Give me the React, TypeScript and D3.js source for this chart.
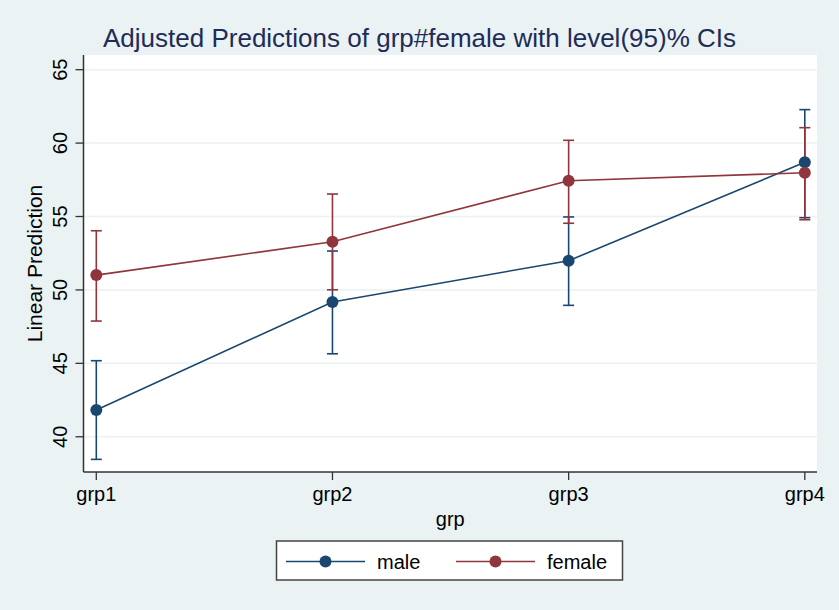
import React from "react";
import * as d3 from "d3";

// predicted linear values with 95% CIs, per group
const groups = ["grp1", "grp2", "grp3", "grp4"];
const maleFit = [41.82, 49.18, 51.99, 58.69];
const maleLo = [38.46, 45.65, 48.95, 54.92];
const maleHi = [45.18, 52.65, 54.97, 62.28];
const femaleFit = [51.01, 53.28, 57.44, 57.98];
const femaleLo = [47.88, 50.01, 54.54, 54.78];
const femaleHi = [54.03, 56.53, 60.19, 61.05];
const yTicks = [40, 45, 50, 55, 60, 65];

const NAVY = "#1a476f";
const MAROON = "#90353b";
const BG = "#eaf2f3";
const FONT = "Liberation Sans, Arial, Helvetica, sans-serif";

export default function App() {
  const svgRef = React.useRef<SVGSVGElement>(null);
  const width = 839;
  const height = 610;
  const plot = { left: 83.5, right: 817, top: 55, bottom: 472 };

  React.useEffect(() => {
    const svg = d3.select(svgRef.current);
    svg.selectAll("*").remove();

    svg.append("rect").attr("width", width).attr("height", height).attr("fill", BG);

    const x = d3.scalePoint().domain(groups).range([96.3, 804.8]);
    const y = d3.scaleLinear().domain([37.6, 66.0]).range([plot.bottom, plot.top]);

    // white plot region
    svg.append("rect")
      .attr("x", plot.left).attr("y", plot.top)
      .attr("width", plot.right - plot.left).attr("height", plot.bottom - plot.top)
      .attr("fill", "#fff");

    // grid
    svg.append("g").selectAll("line").data(yTicks).enter().append("line")
      .attr("x1", plot.left).attr("x2", plot.right)
      .attr("y1", (d) => y(d)).attr("y2", (d) => y(d))
      .attr("stroke", BG).attr("stroke-width", 1.5);

    // y axis
    const yAxis = svg.append("g");
    yAxis.append("line")
      .attr("x1", plot.left).attr("x2", plot.left)
      .attr("y1", plot.top).attr("y2", plot.bottom)
      .attr("stroke", "#333").attr("stroke-width", 1.5);
    yAxis.selectAll("line.tick").data(yTicks).enter().append("line")
      .attr("class", "tick")
      .attr("x1", plot.left - 8).attr("x2", plot.left)
      .attr("y1", (d) => y(d)).attr("y2", (d) => y(d))
      .attr("stroke", "#333").attr("stroke-width", 1.3);
    yAxis.selectAll("text").data(yTicks).enter().append("text")
      .attr("transform", (d) => `translate(67,${y(d)}) rotate(-90)`)
      .attr("text-anchor", "middle")
      .attr("font-family", FONT).attr("font-size", 20)
      .attr("fill", "#000")
      .text((d) => d);

    svg.append("text")
      .attr("transform", `translate(42,${(plot.top + plot.bottom) / 2}) rotate(-90)`)
      .attr("text-anchor", "middle")
      .attr("font-family", FONT).attr("font-size", 21)
      .attr("fill", "#000")
      .text("Linear Prediction");

    // x axis
    const xAxis = svg.append("g");
    xAxis.append("line")
      .attr("x1", plot.left).attr("x2", plot.right)
      .attr("y1", plot.bottom).attr("y2", plot.bottom)
      .attr("stroke", "#333").attr("stroke-width", 1.5);
    xAxis.selectAll("line.tick").data(groups).enter().append("line")
      .attr("class", "tick")
      .attr("x1", (d) => x(d)!).attr("x2", (d) => x(d)!)
      .attr("y1", plot.bottom).attr("y2", plot.bottom + 8)
      .attr("stroke", "#333").attr("stroke-width", 1.3);
    xAxis.selectAll("text").data(groups).enter().append("text")
      .attr("x", (d) => x(d)!).attr("y", 501)
      .attr("text-anchor", "middle")
      .attr("font-family", FONT).attr("font-size", 20)
      .attr("fill", "#000")
      .text((d) => d);

    svg.append("text")
      .attr("x", (plot.left + plot.right) / 2).attr("y", 526)
      .attr("text-anchor", "middle")
      .attr("font-family", FONT).attr("font-size", 20)
      .attr("fill", "#000")
      .text("grp");

    const series = [
      { fit: maleFit, lo: maleLo, hi: maleHi, color: NAVY },
      { fit: femaleFit, lo: femaleLo, hi: femaleHi, color: MAROON },
    ];

    // confidence intervals (range caps)
    series.forEach((s) => {
      const g = svg.append("g").attr("stroke", s.color).attr("stroke-width", 1.6);
      groups.forEach((k, i) => {
        const cx = x(k)!;
        g.append("line").attr("x1", cx).attr("x2", cx).attr("y1", y(s.lo[i])).attr("y2", y(s.hi[i]));
        g.append("line").attr("x1", cx - 5.5).attr("x2", cx + 5.5).attr("y1", y(s.lo[i])).attr("y2", y(s.lo[i]));
        g.append("line").attr("x1", cx - 5.5).attr("x2", cx + 5.5).attr("y1", y(s.hi[i])).attr("y2", y(s.hi[i]));
      });
    });

    // connected predictions
    const line = d3.line<number>().x((_, i) => x(groups[i])!).y((d) => y(d));
    series.forEach((s) => {
      svg.append("path").datum(s.fit)
        .attr("d", line).attr("fill", "none")
        .attr("stroke", s.color).attr("stroke-width", 1.6);
      svg.append("g").selectAll("circle").data(s.fit).enter().append("circle")
        .attr("cx", (_, i) => x(groups[i])!).attr("cy", (d) => y(d))
        .attr("r", 6).attr("fill", s.color);
    });

    // title
    svg.append("text")
      .attr("x", width / 2).attr("y", 47)
      .attr("text-anchor", "middle")
      .attr("font-family", FONT).attr("font-size", 26)
      .attr("fill", "#1e2c57")
      .text("Adjusted Predictions of grp#female with level(95)% CIs");

    // legend
    const lg = svg.append("g");
    lg.append("rect")
      .attr("x", 276.5).attr("y", 541).attr("width", 346).attr("height", 39)
      .attr("fill", "#fff").attr("stroke", "#444").attr("stroke-width", 1.5);
    const items = [
      { label: "male", color: NAVY, x0: 286, x1: 365, tx: 377 },
      { label: "female", color: MAROON, x0: 456, x1: 535, tx: 547 },
    ];
    items.forEach((it) => {
      lg.append("line")
        .attr("x1", it.x0).attr("x2", it.x1).attr("y1", 561.5).attr("y2", 561.5)
        .attr("stroke", it.color).attr("stroke-width", 1.6);
      lg.append("circle")
        .attr("cx", (it.x0 + it.x1) / 2).attr("cy", 561.5).attr("r", 6).attr("fill", it.color);
      lg.append("text")
        .attr("x", it.tx).attr("y", 569)
        .attr("font-family", FONT).attr("font-size", 20)
        .attr("fill", "#000")
        .text(it.label);
    });
  }, []);

  return (
    <svg
      ref={svgRef}
      width={width}
      height={height}
      style={{ position: "absolute", left: 0, top: 0, display: "block" }}
    />
  );
}
